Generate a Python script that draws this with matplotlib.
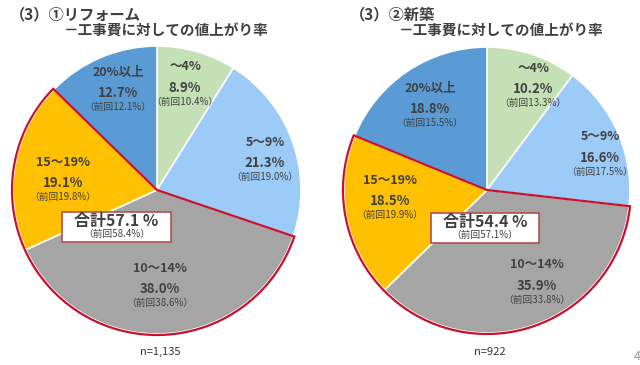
import matplotlib.pyplot as plt
from matplotlib.patches import Wedge, Rectangle

plt.rcParams['font.family'] = ['Noto Sans CJK JP', 'DejaVu Sans']

# data
categories = ["～4%", "5～9%", "10～14%", "15～19%", "20%以上"]
reform_now = [8.9, 21.3, 38.0, 19.1, 12.7]
reform_prev = [10.4, 19.0, 38.6, 19.8, 12.1]
new_now = [10.2, 16.6, 35.9, 18.5, 18.8]
new_prev = [13.3, 17.5, 33.8, 19.9, 15.5]
reform_total = (57.1, 58.4)
new_total = (54.4, 57.1)
reform_n = "n=1,135"
new_n = "n=922"

colors = ["#C5E0B4", "#9DCBF7", "#A5A5A5", "#FFC000", "#5B9BD5"]
txt = "#404040"
red = "#C8102E"

fig = plt.figure(figsize=(6.4, 3.65), dpi=100)
ax = fig.add_axes([0, 0, 1, 1])
H = 365


def draw(cx, cy, r, now, prev, total, n, label_pos, box):
    c = (cx, H - cy)
    ax.pie(now, colors=colors, startangle=90, counterclock=False,
           center=c, radius=r, frame=True,
           wedgeprops=dict(edgecolor="white", linewidth=1.2))
    # red outline around 10~14 + 15~19
    cum = [sum(now[:i]) for i in range(len(now) + 1)]
    t1 = 90 - 360 * cum[4] / 100
    t2 = 90 - 360 * cum[2] / 100
    ax.add_patch(Wedge(c, r + 1, t1, t2, fill=False, edgecolor=red,
                       linewidth=1.6, zorder=5))
    for cat, v, p, (x, y) in zip(categories, now, prev, label_pos):
        ax.text(x, H - y, cat, ha="center", va="center", fontsize=9,
                color=txt, fontweight="bold", zorder=6)
        ax.text(x, H - y - 21, f"{v:.1f}%", ha="center", va="center",
                fontsize=9.5, color=txt, fontweight="bold", zorder=6)
        ax.text(x, H - y - 35, f"（前回{p:.1f}%）", ha="center", va="center",
                fontsize=7, color=txt, zorder=6)
    bx0, by0, bx1, by1 = box
    ax.add_patch(Rectangle((bx0, H - by1), bx1 - bx0, by1 - by0,
                           facecolor="white", edgecolor="#B0504F",
                           linewidth=1.2, zorder=6))
    mx = (bx0 + bx1) / 2
    ax.text(mx, H - by0 - 9, f"合計{total[0]:.1f} %", ha="center", va="center",
            fontsize=11.5, color=txt, fontweight="bold", zorder=7)
    ax.text(mx, H - by0 - 22, f"（前回{total[1]:.1f}%）", ha="center",
            va="center", fontsize=7, color=txt, zorder=7)
    ax.text(cx + 3, H - 352, n, ha="center", va="center", fontsize=8,
            color="#333333")


draw(157, 190, 144, reform_now, reform_prev, reform_total, reform_n,
     [(185, 67), (265, 142), (160, 268), (63, 162), (118, 72)],
     (62, 212, 171, 242))
draw(487, 190, 143, new_now, new_prev, new_total, new_n,
     [(533, 68), (600, 137), (537, 265), (390, 180), (430, 88)],
     (431, 213, 539, 243))

ax.text(10, H - 14, "（3）①リフォーム", fontsize=11, fontweight="bold",
        color=txt, va="center")
ax.text(64, H - 31, "－工事費に対しての値上がり率", fontsize=10.5,
        fontweight="bold", color=txt, va="center")
ax.text(350, H - 14, "（3）②新築", fontsize=11, fontweight="bold",
        color=txt, va="center")
ax.text(399, H - 31, "－工事費に対しての値上がり率", fontsize=10.5,
        fontweight="bold", color=txt, va="center")
ax.text(634, H - 356, "4", fontsize=9, color="#999999", va="center")

ax.set_xlim(0, 640)
ax.set_ylim(0, H)
ax.axis("off")

fig.savefig("out.png", dpi=100)
